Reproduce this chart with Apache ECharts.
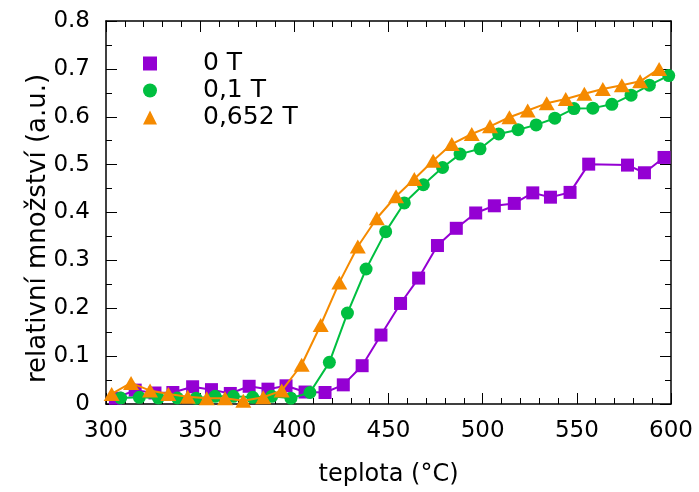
<!DOCTYPE html>
<html>
<head>
<meta charset="utf-8">
<script src="https://cdn.jsdelivr.net/npm/echarts@6/dist/echarts.min.js"></script>
<style>html,body{margin:0;padding:0;background:#fff}#c{width:699px;height:492px}</style>
</head>
<body>
<div id="c"></div>
<script>
const seriesNames = ['0 T', '0,1 T', '0,652 T'];
const temps0 = [305, 315.5, 326, 335.5, 346, 356, 366, 376, 386, 395.6, 405.7, 416.3, 426, 436, 446, 456.4, 466, 476, 486, 496.3, 506.2, 516.8, 526.6, 536, 546.4, 556.3, 576.9, 585.9, 596.3];
const values0 = [0.012, 0.029, 0.023, 0.024, 0.036, 0.030, 0.022, 0.037, 0.031, 0.038, 0.025, 0.024, 0.040, 0.080, 0.144, 0.210, 0.263, 0.331, 0.367, 0.399, 0.414, 0.419, 0.441, 0.432, 0.442, 0.501, 0.499, 0.483, 0.515];
const temps1 = [307.8, 317.7, 327.8, 337.9, 347.8, 357.9, 367.6, 377.9, 388, 398.2, 408.3, 418.6, 428.2, 438.1, 448.5, 458.4, 468.5, 478.7, 488, 498.6, 508.5, 518.8, 528.4, 538.3, 548.5, 558.5, 568.6, 578.8, 588.5, 598.8];
const values1 = [0.0125, 0.014, 0.0125, 0.0125, 0.012, 0.016, 0.016, 0.014, 0.016, 0.012, 0.024, 0.087, 0.190, 0.282, 0.360, 0.420, 0.458, 0.494, 0.522, 0.533, 0.564, 0.573, 0.583, 0.597, 0.617, 0.618, 0.626, 0.645, 0.666, 0.686];
const temps2 = [303, 313.3, 323.4, 333.1, 343.4, 353.5, 363.2, 372.9, 383.5, 393.3, 403.9, 414, 423.9, 433.7, 443.8, 454, 463.7, 473.7, 483.6, 494.2, 503.9, 514.2, 523.9, 534, 544.1, 554, 563.8, 573.9, 583.6, 593.7];
const values2 = [0.021, 0.044, 0.028, 0.021, 0.015, 0.012, 0.012, 0.007, 0.014, 0.028, 0.082, 0.165, 0.254, 0.329, 0.388, 0.434, 0.470, 0.508, 0.543, 0.564, 0.580, 0.599, 0.613, 0.628, 0.637, 0.648, 0.658, 0.666, 0.674, 0.700];
const xTitle = 'teplota (°C)';
const yTitle = 'relativní množství (a.u.)';

const FONT = 'DejaVu Sans';
const colors = ['#9400d3', '#00bf40', '#f58a00'];
const symbols = ['rect', 'circle', 'triangle'];
const symbolSizes = [13, 13, [16, 14]];
const pairs = (xs, ys) => xs.map((x, i) => [x, ys[i]]);
const allData = [pairs(temps0, values0), pairs(temps1, values1), pairs(temps2, values2)];

const chart = echarts.init(document.getElementById('c'), null, {renderer: 'canvas'});
const axisCommon = {
  axisLine: {show: true, onZero: false, lineStyle: {color: '#000', width: 1.5}},
  axisTick: {show: true, inside: true, length: 11, lineStyle: {color: '#000', width: 1}},
  minorTick: {show: true, length: 6, lineStyle: {color: '#000', width: 1}},
  splitLine: {show: false}
};
chart.setOption({
  animation: false,
  backgroundColor: '#fff',
  textStyle: {fontFamily: FONT},
  grid: {left: 106, right: 28, top: 21, bottom: 84, containLabel: false},
  legend: {
    left: 138, top: 46, orient: 'vertical', itemGap: 2,
    itemWidth: 14, itemHeight: 14,
    textStyle: {fontFamily: FONT, fontSize: 25, color: '#000', padding: [0, 0, 0, 41]},
    data: seriesNames.map((n, i) => ({name: n, icon: symbols[i]}))
  },
  xAxis: [
    Object.assign({}, axisCommon, {
      type: 'value', min: 300, max: 600, interval: 50, position: 'bottom',
      minorTick: Object.assign({}, axisCommon.minorTick, {splitNumber: 5}),
      axisLabel: {fontFamily: FONT, fontSize: 23, color: '#000', margin: 16},
      name: xTitle, nameLocation: 'middle', nameGap: 59, nameMoveOverlap: false,
      nameTextStyle: {fontFamily: FONT, fontSize: 24, color: '#000'}
    }),
    Object.assign({}, axisCommon, {
      type: 'value', min: 300, max: 600, interval: 50, position: 'top',
      minorTick: Object.assign({}, axisCommon.minorTick, {splitNumber: 5}),
      axisLabel: {show: false}
    })
  ],
  yAxis: [
    Object.assign({}, axisCommon, {
      type: 'value', min: 0, max: 0.8, interval: 0.1, position: 'left',
      minorTick: Object.assign({}, axisCommon.minorTick, {splitNumber: 2}),
      axisLabel: {fontFamily: FONT, fontSize: 23, color: '#000', margin: 16, formatter: v => v.toFixed(1).replace(/^0\.0$/, '0')},
      name: yTitle, nameLocation: 'middle', nameGap: 55, nameRotate: 90, nameMoveOverlap: false,
      nameTextStyle: {fontFamily: FONT, fontSize: 26, color: '#000', padding: [0, 32, 0, 0]}
    }),
    Object.assign({}, axisCommon, {
      type: 'value', min: 0, max: 0.8, interval: 0.1, position: 'right',
      minorTick: Object.assign({}, axisCommon.minorTick, {splitNumber: 2}),
      axisLabel: {show: false}
    })
  ],
  series: seriesNames.map((n, i) => ({
    name: n, type: 'line', xAxisIndex: 0, yAxisIndex: 0,
    data: allData[i],
    symbol: symbols[i], symbolSize: symbolSizes[i], showAllSymbol: true,
    itemStyle: {color: colors[i]},
    lineStyle: {color: colors[i], width: 2},
    z: 2 + i
  }))
});
</script>
</body>
</html>
